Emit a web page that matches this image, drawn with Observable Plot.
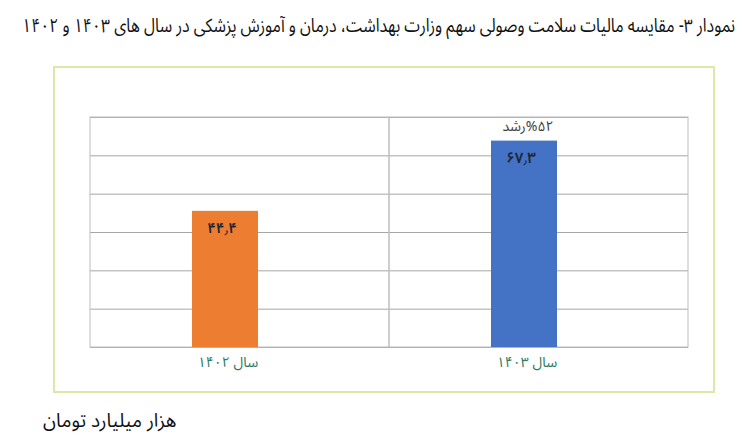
<!DOCTYPE html>
<html>
<head>
<meta charset="utf-8">
<script src="https://cdn.jsdelivr.net/npm/d3@7"></script>
<script src="https://cdn.jsdelivr.net/npm/@observablehq/plot@0.6"></script>
<style>
  html, body { margin: 0; padding: 0; background: #fff; }
  body { width: 744px; height: 442px; position: relative; overflow: hidden;
         font-family: "Noto Sans Arabic", "DejaVu Sans", sans-serif; }
  #title { position: absolute; right: 9px; top: 6px; direction: rtl; text-align: right;
           font-size: 19px; color: #111; white-space: nowrap; transform-origin: right top; }
  #frame { position: absolute; left: 53px; top: 66px; width: 658px; height: 323px;
           border: 2px solid #dde8a8; }
  #chart { position: absolute; left: 0; top: 50px; }
  #foot { position: absolute; left: 43px; top: 401px; font-size: 19px; color: #111; direction: rtl; white-space: nowrap; }
</style>
</head>
<body>
<div id="title"></div>
<div id="frame"></div>
<div id="chart"></div>
<div id="foot"></div>
<script>
const titleText = "نمودار ۳- مقایسه مالیات سلامت وصولی سهم  وزارت بهداشت، درمان و آموزش پزشکی در سال های  ۱۴۰۳ و ۱۴۰۲";
const unitText = "هزار میلیارد تومان";
const categories = ["سال ۱۴۰۲", "سال ۱۴۰۳"];
const values = [44.4, 67.3];
const valueLabels = ["۴۴٫۴", "۶۷٫۳"];
const colors = ["#ED7D31", "#4472C4"];
const growthLabel = "\u2067%۵۲رشد\u2069";
const yGrid = [0, 12.5, 25, 37.5, 50, 62.5, 75];

const titleEl = document.getElementById("title");
titleEl.textContent = titleText;
const w = titleEl.getBoundingClientRect().width;
const targetW = 713;
if (w > 0) titleEl.style.transform = `scaleX(${targetW / w})`;
document.getElementById("foot").textContent = unitText;

const data = categories.map((c, i) => ({cat: c, value: values[i], label: valueLabels[i], color: colors[i]}));

const chart = Plot.plot({
  width: 744,
  height: 350,
  marginLeft: 90,
  marginRight: 56,
  marginTop: 67,
  marginBottom: 53,
  style: {fontFamily: "'Noto Sans Arabic', 'DejaVu Sans', sans-serif", background: "transparent"},
  x: {domain: categories, padding: 0, label: null},
  y: {domain: [0, 75], axis: null},
  marks: [
    Plot.ruleY(yGrid, {stroke: "#a6a6a6", strokeWidth: 1}),
    Plot.barY(categories, {x: d => d, y1: 0, y2: 75, fill: "none", stroke: "#bdbdbd", strokeWidth: 1}),
    Plot.barY(data, {x: "cat", y: "value", fill: "color", insetLeft: 102, insetRight: 131}),
    Plot.text(data, {x: "cat", y: "value", text: "label", dy: 17, dx: -18, fill: "#1f2633", fontSize: 15, fontWeight: 600}),
    Plot.text([data[1]], {x: "cat", y: "value", text: () => growthLabel, dy: -15, dx: -11, fill: "#404040", fontSize: 14}),
    Plot.axisX({tickSize: 0, tickPadding: 10, fontSize: 14, fill: "#2e7a5f", dx: -12})
  ]
});
document.getElementById("chart").appendChild(chart);
</script>
</body>
</html>
